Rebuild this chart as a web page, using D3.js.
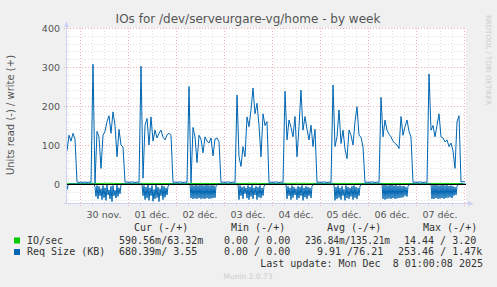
<!DOCTYPE html>
<html>
<head>
<meta charset="utf-8">
<script src="https://cdn.jsdelivr.net/npm/d3@7"></script>
<style>
body { margin: 0; background: #f0f0f0; }
svg { display: block; }
.pre { white-space: pre; }
</style>
</head>
<body>
<div id="chart"></div>
<script>
// hourly write request size (KB), starting 29 nov 17:30
var writeSize = [
  85,125,110,130,115, 5,4,5,4,5,4,5,
  4,307,2,135,120,40,125,135,160,175,130,185,150,70,140,100,95,5,
  5,4,5,5,4,5,4,
  302,15,150,168,100,172,110,138,118,130,138,120,113,126,130,125,4,
  5,4,5,5,4,5,4,
  250,3,145,120,55,125,115,80,121,110,105,118,72,115,118,108,4,
  5,4,5,5,4,5,4,
  228,70,45,96,70,172,147,190,246,180,207,150,70,180,150,160,4,
  5,4,5,5,4,5,4,
  238,113,164,145,121,173,70,147,241,138,173,140,113,151,96,140,4,
  5,4,5,5,4,5,4,
  254,96,121,190,104,138,90,65,138,125,100,160,198,125,120,95,4,
  5,4,5,5,4,5,4,
  222,121,164,138,128,121,110,104,100,91,173,125,147,164,135,120,4,
  5,4,5,5,4,5,4,
  282,138,150,121,150,180,121,118,108,113,96,105,85,40,160,175,5,6,6
]
// half hourly read request size (KB) during the busy hours of each day
var readStart = ["2025-11-30T07:30","2025-12-01T07:30","2025-12-02T07:30","2025-12-03T07:30",
  "2025-12-04T07:30","2025-12-05T07:30","2025-12-06T07:30","2025-12-07T08:00"]
var readBlocks = [
  [8,32,4,38,6,30,12,40,4,35,10,42,3,28,15,38,6,45,4,30,16,36,3,32,10,25,2],
  [30,4,40,8,36,2,42,10,30,4,44,14,38,3,35,8,45,12,30,4,40,6,34,10,28,6,2],
  [36,3,38,4,37,2,38,4,36,3,38,3,37,4,38,2,36,3,38,4,37,3,36,4,35,5,2],
  [40,4,30,8,38,6,25,10,36,4,40,8,32,3,38,10,28,6,40,8,34,4,36,10,30,6,2],
  [38,6,30,10,40,4,35,8,28,12,40,6,36,8,30,4,42,10,34,6,38,8,30,10,36,6,2],
  [42,8,38,4,35,10,40,6,30,14,42,4,36,8,38,10,32,6,40,4,35,8,38,10,30,6,2],
  [38,2,40,3,38,4,37,2,38,3,36,4,38,3,37,5,36,4,35,6,34,5,30,8,32,6,2],
  [38,3,38,2,36,3,38,4,37,3,36,2,38,4,36,3,35,5,34,4,36,6,30,8,28,6,2]
]
var readFirst = [15,3,1]
// io/sec per 6 hours
var ioWrite = [0.8,0.3, 1.5,1.8,1.4,0.3, 1.6,1.5,1.3,0.3, 1.4,1.5,1.2,0.3, 1.5,1.7,1.4,0.3,
  1.6,1.8,1.5,0.3, 1.5,1.6,1.4,0.3, 1.4,1.5,1.3,0.3, 1.5,1.6,1.2,0.3]
var ioRead = [0.6,0.2, 1.2,1.4,1.1,0.2, 1.3,1.2,1.0,0.2, 1.1,1.2,1.0,0.2, 1.2,1.3,1.1,0.2,
  1.3,1.4,1.2,0.2, 1.2,1.3,1.1,0.2, 1.1,1.2,1.0,0.2, 1.2,1.3,1.0,0.2]

var xLabels = ["30 nov.","01 déc.","02 déc.","03 déc.","04 déc.","05 déc.","06 déc.","07 déc."]
var yTicks = [0,100,200,300,400]
var legendNames = ["IO/sec","Req Size (KB)"]
var legendColors = ["#00cc00","#0066b3"]
var legendCur = ["590.56m/63.32m","680.39m/ 3.55"]
var legendMin = ["0.00 / 0.00","0.00 / 0.00"]
var legendAvg = ["236.84m/135.21m","9.91 /76.21"]
var legendMax = ["14.44 / 3.20","253.46 / 1.47k"]

var W = 497, H = 287
var start = new Date(2025,10,29,17,30)
var end = new Date(2025,11,8,1,0)
var HOUR = 3600000

var svg = d3.select("#chart").append("svg").attr("width", W).attr("height", H)
svg.append("rect").attr("width", W).attr("height", H).attr("fill", "#f0f0f0")

var x = d3.scaleTime().domain([start, end]).range([67, 466])
var y = d3.scaleLinear().domain([-50, 400]).range([203.5, 28])

svg.append("rect").attr("x", 67).attr("y", 28).attr("width", 399).attr("height", 175.5).attr("fill", "#fff")

// grid
var grid = svg.append("g").attr("shape-rendering", "crispEdges")
var minorY = d3.range(-40, 401, 20).filter(function(v) { return v % 100 != 0 })
grid.selectAll(".hmin").data(minorY).enter().append("line")
  .attr("x1", 67).attr("x2", 466)
  .attr("y1", function(d) { return Math.round(y(d)) + 0.5 }).attr("y2", function(d) { return Math.round(y(d)) + 0.5 })
  .attr("stroke", "#dedede").attr("stroke-dasharray", "1,2")
var hours6 = d3.timeHour.every(6).range(start, end).filter(function(d) { return d.getHours() != 0 })
grid.selectAll(".vmin").data(hours6).enter().append("line")
  .attr("x1", function(d) { return Math.round(x(d)) + 0.5 }).attr("x2", function(d) { return Math.round(x(d)) + 0.5 })
  .attr("y1", 28).attr("y2", 206)
  .attr("stroke", "#dedede").attr("stroke-dasharray", "1,2")
grid.selectAll(".hmaj").data(yTicks.slice(1)).enter().append("line")
  .attr("x1", 64).attr("x2", 466)
  .attr("y1", function(d) { return Math.round(y(d)) + 0.5 }).attr("y2", function(d) { return Math.round(y(d)) + 0.5 })
  .attr("stroke", "#eeb0b0").attr("stroke-dasharray", "1,2")
var days = d3.timeDay.range(start, end)
grid.selectAll(".vmaj").data(days).enter().append("line")
  .attr("x1", function(d) { return Math.round(x(d)) + 0.5 }).attr("x2", function(d) { return Math.round(x(d)) + 0.5 })
  .attr("y1", 28).attr("y2", 207)
  .attr("stroke", "#eeb0b0").attr("stroke-dasharray", "1,2")

// build the series
var writeData = writeSize.map(function(v, i) { return {t: new Date(start.getTime() + i*HOUR), v: v} })
var readMap = {}
readFirst.forEach(function(v, i) { readMap[start.getTime() + i*HOUR/2] = v })
readBlocks.forEach(function(b, j) {
  var t0 = new Date(readStart[j]).getTime()
  b.forEach(function(v, i) { readMap[t0 + i*HOUR/2] = v })
})
var readData = d3.timeMinute.every(30).range(start, new Date(end.getTime() + 1)).map(function(t) {
  return {t: t, v: -(readMap[t.getTime()] || 0)}
})
var ioW = ioWrite.map(function(v, i) { return {t: new Date(start.getTime() + i*6*HOUR), v: v} })
var ioR = ioRead.map(function(v, i) { return {t: new Date(start.getTime() + i*6*HOUR), v: -v} })

var line = d3.line().x(function(d) { return x(Math.min(d.t, end)) }).y(function(d) { return y(d.v) })
var plot = svg.append("g")
plot.append("path").datum(ioW).attr("d", line.curve(d3.curveStepAfter)).attr("fill", "none").attr("stroke", "#00cc00")
plot.append("path").datum(ioR).attr("d", line).attr("fill", "none").attr("stroke", "#00cc00")
line.curve(d3.curveLinear)
plot.append("path").datum(readData).attr("d", line).attr("fill", "none").attr("stroke", "#0066b3").attr("stroke-width", 1)
plot.append("path").datum(writeData).attr("d", line).attr("fill", "none").attr("stroke", "#0066b3").attr("stroke-width", 1)
// zero rule
svg.append("line").attr("x1", 67).attr("x2", 466).attr("y1", y(0) + 0.5).attr("y2", y(0) + 0.5)
  .attr("stroke", "#000").attr("shape-rendering", "crispEdges")

// axes
var axisCol = "#ccd2f4"
svg.append("line").attr("x1", 66.5).attr("x2", 66.5).attr("y1", 204).attr("y2", 24).attr("stroke", axisCol)
svg.append("path").attr("d", "M64,27L69,27L66.5,21Z").attr("fill", axisCol)
svg.append("line").attr("x1", 64).attr("x2", 469).attr("y1", 203.5).attr("y2", 203.5).attr("stroke", axisCol)
svg.append("path").attr("d", "M468,201L468,206L474,203.5Z").attr("fill", axisCol)

var font = "DejaVu Sans, sans-serif"
svg.selectAll(".ylab").data(yTicks).enter().append("text")
  .attr("x", 60).attr("y", function(d) { return y(d) + 3.5 })
  .attr("text-anchor", "end").attr("font-family", font).attr("font-size", 9.5).attr("fill", "#555")
  .text(function(d) { return d })
svg.selectAll(".xlab").data(xLabels).enter().append("text")
  .attr("x", function(d, i) { return x(new Date(days[i].getTime() + 12*HOUR)) })
  .attr("y", 217.5)
  .attr("text-anchor", "middle").attr("font-family", font).attr("font-size", 9.5).attr("fill", "#555")
  .text(function(d) { return d })

svg.append("text").attr("x", 248).attr("y", 23).attr("text-anchor", "middle")
  .attr("font-family", font).attr("font-size", 12).attr("fill", "#555")
  .text("IOs for /dev/serveurgare-vg/home - by week")
svg.append("text").attr("transform", "translate(14,115) rotate(-90)").attr("text-anchor", "middle")
  .attr("font-family", font).attr("font-size", 10).attr("fill", "#555")
  .text("Units read (-) / write (+)")
svg.append("text").attr("transform", "translate(486,15) rotate(90)")
  .attr("font-family", font).attr("font-size", 7).attr("fill", "#ccc")
  .text("RRDTOOL / TOBI OETIKER")

// legend
var mono = "DejaVu Sans Mono, monospace"
var lg = svg.append("g").attr("font-family", mono).attr("font-size", 10).attr("fill", "#333")
var heads = [["Cur (-/+)",134],["Min (-/+)",231],["Avg (-/+)",327],["Max (-/+)",423]]
heads.forEach(function(h) { lg.append("text").attr("x", h[1]).attr("y", 231).text(h[0]) })
legendNames.forEach(function(n, i) {
  var yy = 243.5 + i*11.5
  lg.append("rect").attr("x", 14).attr("y", yy - 6).attr("width", 6).attr("height", 6).attr("fill", legendColors[i])
  lg.append("text").attr("x", 27).attr("y", yy).text(n)
  lg.append("text").attr("class", "pre").attr("x", 119).attr("y", yy).text(legendCur[i])
  lg.append("text").attr("x", 224).attr("y", yy).text(legendMin[i])
  var avg = lg.append("text").attr("x", i == 0 ? 305 : 317).attr("y", yy).text(legendAvg[i])
  if (i == 0) avg.attr("textLength", 85).attr("lengthAdjust", "spacingAndGlyphs")
  lg.append("text").attr("x", i == 0 ? 404 : 398).attr("y", yy).text(legendMax[i])
})
lg.append("text").attr("class", "pre").attr("x", 483).attr("y", 267).attr("text-anchor", "end").text("Last update: Mon Dec  8 01:00:08 2025")
svg.append("text").attr("x", 248).attr("y", 279).attr("text-anchor", "middle")
  .attr("font-family", font).attr("font-size", 7.5).attr("fill", "#ccc").text("Munin 2.0.73")
</script>
</body>
</html>
